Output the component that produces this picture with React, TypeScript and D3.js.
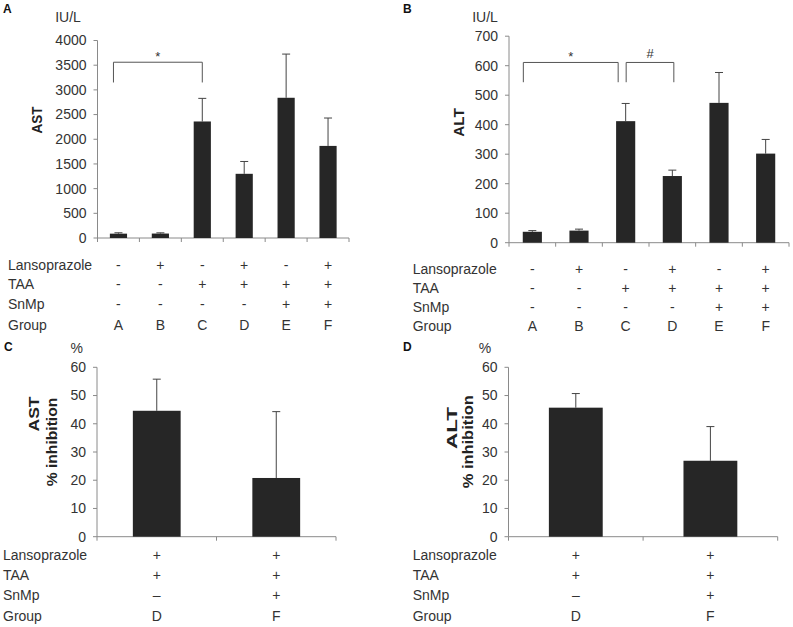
import React from 'react';
import * as d3 from 'd3';

// ---------- data ----------
const groups = ['A', 'B', 'C', 'D', 'E', 'F'];
const astMean = [88, 90, 2360, 1300, 2840, 1865];
const astErr = [18, 15, 468, 250, 885, 565];
const altMean = [37, 41, 412, 226, 474, 302];
const altErr = [4, 5, 60, 20, 103, 48];

const inhibGroups = ['D', 'F'];
const astInhib = [44.6, 20.8];
const astInhibErr = [11.2, 23.5];
const altInhib = [45.7, 26.9];
const altInhibErr = [5.0, 12.1];

const rowLabels = ['Lansoprazole', 'TAA', 'SnMp', 'Group'];
const lansoprazole = ['-', '+', '-', '+', '-', '+'];
const taa = ['-', '-', '+', '+', '+', '+'];
const snmp = ['-', '-', '-', '-', '+', '+'];
const lansoInhib = ['+', '+'];
const taaInhib = ['+', '+'];
const snmpInhib = ['\u2013', '+'];

const astTicks = d3.range(0, 4001, 500);
const altTicks = d3.range(0, 701, 100);
const pctTicks = d3.range(0, 61, 10);

const astBrackets = [{ from: 'A', to: 'C', lo: 3150, hi: 3560, label: '*' }];
const altBrackets = [
  { from: 'A', to: 'C', lo: 544, hi: 611, label: '*' },
  { from: 'C', to: 'D', lo: 544, hi: 611, label: '#' },
];

const FONT = 'Liberation Sans, Arial, Helvetica, sans-serif';
const TXT = '#333';
const AXIS = '#8a8a8a';
const BAR = '#262626';

type Bracket = { from: string; to: string; lo: number; hi: number; label: string };

type PanelProps = {
  letter: string; letterX: number; letterY: number;
  unit: string; unitX: number; unitY: number;
  x0: number; x1: number; yBottom: number; yTop: number; yMax: number; ticks: number[];
  cats: string[]; values: number[]; errors: number[];
  padInner: number; padOuter: number;
  yLabels: { text: string; x: number; y: number; len: number; size: number }[];
  rows: string[][]; tableLabelX: number; rowYs: number[];
  brackets?: Bracket[]; bracketDx?: [number, number][];
  tableSize: number;
};

function Panel(p: PanelProps) {
  const x = d3.scaleBand<string>().domain(p.cats).range([p.x0, p.x1]).paddingInner(p.padInner).paddingOuter(p.padOuter);
  const y = d3.scaleLinear().domain([0, p.yMax]).range([p.yBottom, p.yTop]);
  const step = x.step();
  const bounds = d3.range(p.cats.length + 1).map(i => p.x0 + i * step);
  const cx = (c: string) => (x(c) as number) + x.bandwidth() / 2;
  return (
    <g fontFamily={FONT}>
      <text x={p.letterX} y={p.letterY} dy="0.35em" fontSize={12} fontWeight="bold" fill="#111">{p.letter}</text>
      <text x={p.unitX} y={p.unitY} dy="0.35em" fontSize={14} fill={TXT} textAnchor="middle">{p.unit}</text>
      {p.yLabels.map((l, i) => (
        <text key={i} transform={`translate(${l.x},${l.y}) rotate(-90)`} dy="0.35em" textAnchor="middle"
          fontSize={l.size} fontWeight="bold" fill="#222" textLength={l.len} lengthAdjust="spacingAndGlyphs">{l.text}</text>
      ))}
      {/* axes */}
      <line x1={p.x0} x2={p.x0} y1={y(p.yMax)} y2={p.yBottom} stroke={AXIS} strokeWidth={1} />
      <line x1={p.x0} x2={p.x1} y1={p.yBottom} y2={p.yBottom} stroke={AXIS} strokeWidth={1} />
      {p.ticks.map(t => (
        <g key={t}>
          <line x1={p.x0 - 4} x2={p.x0} y1={y(t)} y2={y(t)} stroke={AXIS} />
          <text x={p.x0 - 11} y={y(t)} dy="0.35em" textAnchor="end" fontSize={14} fill={TXT}>{t}</text>
        </g>
      ))}
      {bounds.map((b, i) => (
        <line key={i} x1={b} x2={b} y1={p.yBottom} y2={p.yBottom + 4} stroke={AXIS} />
      ))}
      {/* bars */}
      {p.cats.map((c, i) => {
        const top = y(p.values[i]);
        const et = y(p.values[i] + p.errors[i]);
        const m = cx(c);
        return (
          <g key={c}>
            <line x1={m} x2={m} y1={top} y2={et} stroke="#444" strokeWidth={1} />
            <line x1={m - 4} x2={m + 4} y1={et} y2={et} stroke="#444" strokeWidth={1} />
            <rect x={x(c)} y={top} width={x.bandwidth()} height={p.yBottom - top} fill={BAR} />
          </g>
        );
      })}
      {/* brackets */}
      {(p.brackets || []).map((b, i) => {
        const dx = (p.bracketDx || [])[i] || [0, 0];
        const xa = cx(b.from) + dx[0];
        const xb = cx(b.to) + dx[1];
        const yh = y(b.hi);
        const yl = y(b.lo);
        return (
          <g key={i}>
            <path d={`M${xa},${yl}V${yh}H${xb}V${yl}`} fill="none" stroke="#555" strokeWidth={1} />
            <text x={(xa + xb) / 2} y={yh - (b.label === '*' ? 1.5 : 4.5)} textAnchor="middle" fontSize={13} fill={TXT}>{b.label}</text>
          </g>
        );
      })}
      {/* table */}
      {rowLabels.map((r, i) => (
        <text key={r} x={p.tableLabelX} y={p.rowYs[i]} dy="0.35em" fontSize={p.tableSize} fill={TXT}>{r}</text>
      ))}
      {p.rows.map((row, ri) => row.map((v, ci) => (
        <text key={`${ri}-${ci}`} x={cx(p.cats[ci])} y={p.rowYs[ri]} dy="0.35em" textAnchor="middle" fontSize={p.tableSize} fill={TXT}>{v}</text>
      )))}
    </g>
  );
}

export default function App() {
  return (
    <svg width={793} height={627} style={{ position: 'absolute', left: 0, top: 0, background: '#fff' }}>
      <rect width={793} height={627} fill="#fff" />
      <Panel letter="A" letterX={3} letterY={9} unit="IU/L" unitX={68} unitY={17}
        x0={97.5} x1={349} yBottom={238} yTop={40.5} yMax={4000} ticks={astTicks}
        cats={groups} values={astMean} errors={astErr} padInner={0.59} padOuter={0.295}
        yLabels={[{ text: 'AST', x: 36.5, y: 120, len: 27, size: 14.5 }]}
        rows={[lansoprazole, taa, snmp, groups]} tableLabelX={8} rowYs={[265, 284.5, 304.5, 325]} tableSize={14}
        brackets={astBrackets} bracketDx={[[-5, 0]]} />
      <Panel letter="B" letterX={403} letterY={9} unit="IU/L" unitX={485} unitY={17}
        x0={509} x1={789} yBottom={242.7} yTop={36.2} yMax={700} ticks={altTicks}
        cats={groups} values={altMean} errors={altErr} padInner={0.59} padOuter={0.295}
        yLabels={[{ text: 'ALT', x: 458.7, y: 122.5, len: 28.5, size: 14.5 }]}
        rows={[lansoprazole, taa, snmp, groups]} tableLabelX={412.7} rowYs={[269.3, 288.3, 307.3, 326]} tableSize={14}
        brackets={altBrackets} bracketDx={[[-9, -7.5], [0.5, 1.5]]} />
      <Panel letter="C" letterX={4} letterY={347} unit="%" unitX={76.7} unitY={348}
        x0={97} x1={336} yBottom={536.7} yTop={367.3} yMax={60} ticks={pctTicks}
        cats={inhibGroups} values={astInhib} errors={astInhibErr} padInner={0.6} padOuter={0.3}
        yLabels={[{ text: 'AST', x: 33.7, y: 414, len: 35, size: 15 }, { text: '% inhibition', x: 52, y: 442, len: 88.7, size: 15.5 }]}
        rows={[lansoInhib, taaInhib, snmpInhib, inhibGroups]} tableLabelX={3} rowYs={[555, 575, 595, 616]} tableSize={14} />
      <Panel letter="D" letterX={403} letterY={347} unit="%" unitX={485} unitY={348}
        x0={508.5} x1={777.7} yBottom={536.7} yTop={367.3} yMax={60} ticks={pctTicks}
        cats={inhibGroups} values={altInhib} errors={altInhibErr} padInner={0.6} padOuter={0.3}
        yLabels={[{ text: 'ALT', x: 451.7, y: 428, len: 42, size: 15 }, { text: '% inhibition', x: 467.8, y: 441.7, len: 93, size: 15.5 }]}
        rows={[lansoInhib, taaInhib, snmpInhib, inhibGroups]} tableLabelX={412.7} rowYs={[555, 575, 595, 616]} tableSize={14} />
    </svg>
  );
}
